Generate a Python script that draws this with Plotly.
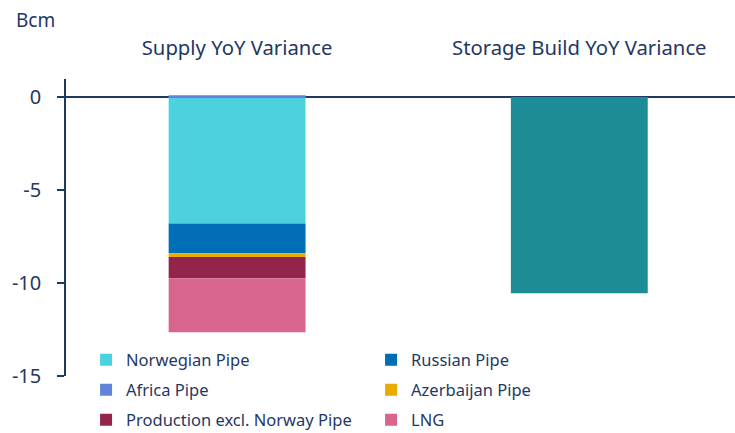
import plotly.graph_objects as go

categories = ["Supply YoY Variance", "Storage Build YoY Variance"]
supply_series = ["Norwegian Pipe", "Russian Pipe", "Africa Pipe", "Azerbaijan Pipe",
                 "Production excl. Norway Pipe", "LNG"]
supply_values = [-6.8, -1.6, 0.1, -0.2, -1.15, -2.9]
supply_colors = ["#4BD2DE", "#006EB6", "#6183DA", "#EAAB00", "#93244C", "#D8658D"]
storage_value = -10.55
storage_color = "#1C8C96"
y_ticks = [0, -5, -10, -15]

navy = "#1F3864"
font_family = "Noto Sans, Open Sans, sans-serif"
xpos = list(range(len(categories)))
legend_rows = ["legend", "legend", "legend2", "legend2", "legend3", "legend3"]

fig = go.Figure()
for name, val, col, lg in zip(supply_series, supply_values, supply_colors, legend_rows):
    fig.add_trace(go.Bar(x=xpos, y=[val, None], name=name, marker_color=col,
                         marker_line_width=0, width=0.4, legend=lg))
fig.add_trace(go.Bar(x=xpos, y=[None, storage_value], name="Storage Build",
                     marker_color=storage_color, marker_line_width=0, width=0.4,
                     showlegend=False))

def legend_row(y):
    return dict(orientation="h", x=0.03, xanchor="left", y=y, yanchor="middle",
                entrywidth=240, entrywidthmode="pixels", bgcolor="rgba(0,0,0,0)",
                font=dict(size=16.5, color=navy), traceorder="normal")

fig.update_layout(
    width=735, height=433,
    margin=dict(l=66, r=0, t=79, b=57, autoexpand=False),
    barmode="relative",
    paper_bgcolor="white", plot_bgcolor="white",
    font=dict(family=font_family, size=20, color=navy),
    xaxis=dict(range=[-0.5, 1.455], side="top", tickvals=xpos, ticktext=categories,
               showline=False, showgrid=False, zeroline=False, ticks="",
               ticklabelstandoff=19, fixedrange=True, tickfont=dict(size=20.3)),
    yaxis=dict(range=[-15, 0.97], tickvals=y_ticks, ticktext=[str(v) for v in y_ticks],
               showline=True, linecolor=navy, linewidth=1.5, ticks="outside",
               ticklen=7, tickcolor=navy, tickwidth=1.5, showgrid=False,
               zeroline=True, zerolinecolor=navy, zerolinewidth=1.5,
               ticklabelstandoff=12, tickfont=dict(size=20)),
    legend=legend_row(0.054),
    legend2=legend_row(-0.047),
    legend3=legend_row(-0.148),
    annotations=[dict(text="Bcm", xref="paper", yref="paper", x=-0.0775, y=1.2,
                      xanchor="left", yanchor="middle", showarrow=False,
                      font=dict(size=19, color=navy))],
)

fig.write_html(
    "out.html",
    config={"displayModeBar": False},
    post_script="document.body.style.margin='0';document.body.style.overflow='hidden';",
)
